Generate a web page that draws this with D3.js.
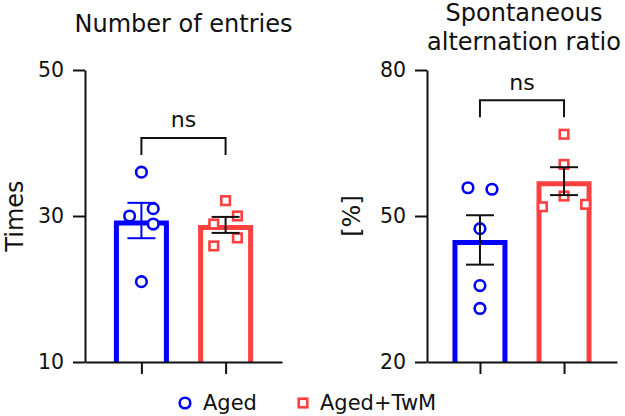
<!DOCTYPE html>
<html>
<head>
<meta charset="utf-8">
<script src="https://cdn.jsdelivr.net/npm/d3@7"></script>
<style>
  html, body { margin: 0; padding: 0; background: #fff; }
  svg { display: block; font-family: "DejaVu Sans", Verdana, sans-serif; }
</style>
</head>
<body>
<svg id="chart" width="625" height="416"></svg>
<script>
// groups
const groups = ['Aged', 'Aged+TwM'];

// number of entries (times), one value per animal
const entriesAged = [36.0, 30.0, 31.0, 28.9, 21.0];
const entriesTwM = [32.1, 30.0, 28.9, 27.0, 25.9];
const entriesTicks = [10, 30, 50];

// spontaneous alternation ratio (%)
const altAged = [55.8, 55.5, 47.4, 35.7, 31.0];
const altTwM = [66.8, 60.6, 54.1, 51.9, 52.4];
const altTicks = [20, 50, 80];

// scatter column of each point (layout only)
const jitEntriesAged = [0, -1, 1, 1, 0];
const jitEntriesTwM = [0, 1, -1, 1, -1];
const jitAltAged = [-1, 1, 0, 0, 0];
const jitAltTwM = [0, 0, 0, -1.8, 1.8];

const BLUE = '#0000ff';
const RED = '#ff4040';
const INK = '#111';

const svg = d3.select('#chart');

function drawPanel(cfg) {
  const g = svg.append('g').attr('transform', `translate(${cfg.left},${cfg.top})`);
  const h = cfg.height, w = cfg.width;

  const y = d3.scaleLinear().domain(d3.extent(cfg.ticks)).range([h, 0]);
  const x = d3.scalePoint().domain(groups).range([0, w]).padding(cfg.pad);

  // bars (open, no bottom edge)
  const series = [
    { name: groups[0], vals: cfg.a, jit: cfg.ja, color: BLUE, shape: 'circle', errColor: cfg.errA },
    { name: groups[1], vals: cfg.b, jit: cfg.jb, color: RED, shape: 'square', errColor: INK }
  ];
  series.forEach(s => {
    s.mean = d3.mean(s.vals);
    s.sem = d3.deviation(s.vals) / Math.sqrt(s.vals.length);
  });

  const bw = 50;
  g.selectAll('.bar')
    .data(series)
    .enter()
    .append('path')
    .attr('class', 'bar')
    .attr('d', d => {
      const cx = x(d.name), top = y(d.mean) + 2.5;
      return `M${cx - bw / 2},${h}V${top}H${cx + bw / 2}V${h}`;
    })
    .attr('fill', 'none')
    .attr('stroke', d => d.color)
    .attr('stroke-width', 5);

  // individual points
  series.forEach(s => {
    const pts = g.selectAll(null)
      .data(s.vals.map((v, i) => ({ v, j: s.jit[i] })))
      .enter();
    if (s.shape === 'circle') {
      pts.append('circle')
        .attr('cx', d => x(s.name) + d.j * cfg.spacing)
        .attr('cy', d => y(d.v))
        .attr('r', 5.3)
        .attr('fill', '#fff')
        .attr('stroke', s.color)
        .attr('stroke-width', 2.6);
    } else {
      pts.append('rect')
        .attr('x', d => x(s.name) + d.j * cfg.spacing - 4.3)
        .attr('y', d => y(d.v) - 4.3)
        .attr('width', 8.6)
        .attr('height', 8.6)
        .attr('fill', '#fff')
        .attr('stroke', s.color)
        .attr('stroke-width', 2.6);
    }
  });

  // mean +/- SEM
  series.forEach(s => {
    const cx = x(s.name);
    const eg = g.append('g').attr('stroke', s.errColor).attr('stroke-width', 2);
    eg.append('line').attr('x1', cx).attr('x2', cx)
      .attr('y1', y(s.mean - s.sem)).attr('y2', y(s.mean + s.sem));
    [s.mean - s.sem, s.mean + s.sem].forEach(v => {
      eg.append('line').attr('x1', cx - 14).attr('x2', cx + 14)
        .attr('y1', y(v)).attr('y2', y(v));
    });
  });

  // axes
  const yAxis = g.append('g')
    .call(d3.axisLeft(y).tickValues(cfg.ticks).tickSize(12).tickSizeOuter(0).tickPadding(9));
  const xAxis = g.append('g')
    .attr('transform', `translate(0,${h})`)
    .call(d3.axisBottom(x).tickSize(12).tickSizeOuter(0).tickFormat(''));
  [yAxis, xAxis].forEach(a => {
    a.selectAll('path, line').attr('stroke', INK).attr('stroke-width', 2);
  });
  yAxis.selectAll('text')
    .attr('fill', INK)
    .style('font-size', '20.5px')
    .style('font-family', '"DejaVu Sans", Verdana, sans-serif');

  // y label
  g.append('text')
    .attr('transform', `translate(${cfg.labelX},${h / 2}) rotate(-90)`)
    .attr('text-anchor', 'middle')
    .style('font-size', '24px')
    .attr('fill', INK)
    .text(cfg.label);

  // significance bracket
  const by = y(cfg.bracket);
  g.append('path')
    .attr('d', `M${x(groups[0])},${by + 17}V${by}H${x(groups[1])}V${by + 17}`)
    .attr('fill', 'none')
    .attr('stroke', INK)
    .attr('stroke-width', 2);
  g.append('text')
    .attr('x', (x(groups[0]) + x(groups[1])) / 2)
    .attr('y', by - 10.5)
    .attr('text-anchor', 'middle')
    .style('font-size', '22px')
    .attr('fill', INK)
    .text('ns');

  // title
  cfg.title.forEach((t, i) => {
    g.append('text')
      .attr('x', cfg.titleX)
      .attr('y', cfg.titleY + i * 29 - cfg.top)
      .attr('text-anchor', 'middle')
      .style('font-size', '24px')
      .attr('fill', INK)
      .text(t);
  });
}

drawPanel({
  left: 85, top: 70, width: 197, height: 292, pad: 0.67,
  a: entriesAged, b: entriesTwM, ja: jitEntriesAged, jb: jitEntriesTwM, spacing: 11.8,
  ticks: entriesTicks, errA: BLUE, label: 'Times', labelX: -62,
  bracket: 40.7, title: ['Number of entries'], titleX: 98.5, titleY: 32
});

drawPanel({
  left: 427, top: 70, width: 190, height: 292, pad: 0.63,
  a: altAged, b: altTwM, ja: jitAltAged, jb: jitAltTwM, spacing: 12,
  ticks: altTicks, errA: INK, label: '[%]', labelX: -67,
  bracket: 73.8, title: ['Spontaneous', 'alternation ratio'], titleX: 97, titleY: 21
});

// legend
const legend = svg.append('g').attr('transform', 'translate(0,403)');
legend.append('circle')
  .attr('cx', 185).attr('cy', 0).attr('r', 5.3)
  .attr('fill', '#fff').attr('stroke', BLUE).attr('stroke-width', 2.6);
legend.append('text')
  .attr('x', 203).attr('y', 7)
  .style('font-size', '21px').attr('fill', INK)
  .text(groups[0]);
legend.append('rect')
  .attr('x', 303 - 4.3).attr('y', -4.3).attr('width', 8.6).attr('height', 8.6)
  .attr('fill', '#fff').attr('stroke', RED).attr('stroke-width', 2.6);
legend.append('text')
  .attr('x', 320).attr('y', 7)
  .style('font-size', '21px').attr('fill', INK)
  .text(groups[1]);
</script>
</body>
</html>
